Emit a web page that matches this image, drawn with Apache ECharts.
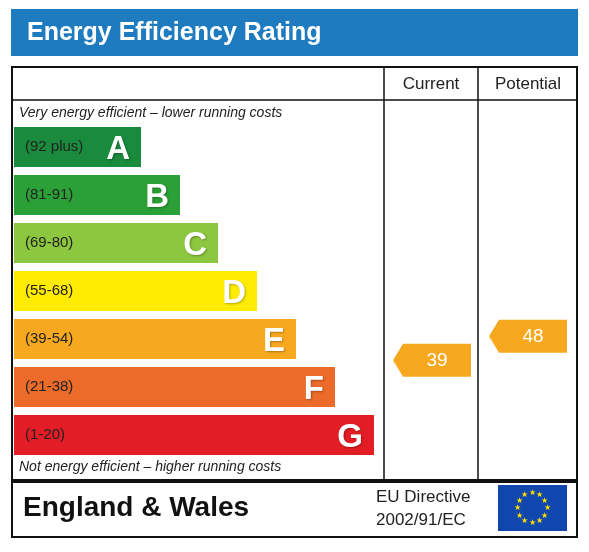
<!DOCTYPE html>
<html><head><meta charset="utf-8">
<script src="https://cdn.jsdelivr.net/npm/echarts@6/dist/echarts.min.js"></script>
<style>html,body{margin:0;padding:0;background:#fff}#c{width:589px;height:552px}</style>
</head><body><div id="c"></div>
<script>
const bands = ['A','B','C','D','E','F','G'];
const ranges = ['(92 plus)','(81-91)','(69-80)','(55-68)','(39-54)','(21-38)','(1-20)'];
const barLengths = [127,166,204,243,282,321,360];
const colors = ['#1a8a3c','#2aa036','#8dc63f','#ffec00','#f8a81f','#ec6b2a','#e31d25'];
const currentRating = [39];
const potentialRating = [48];

const chart = echarts.init(document.getElementById('c'));
const F = 'Liberation Sans, Arial, sans-serif';
const stars = [];
for (let i=0;i<12;i++){const a=i*Math.PI/6;stars.push({type:'text',style:{text:'★',x:532+15*Math.cos(a),y:508+15*Math.sin(a),fill:'#ffdd00',font:'8px '+F,align:'center',verticalAlign:'middle'}});}
function arrow(x, color){
  return function(params, api){
    const y = api.coord([0, api.value(0)])[1];
    const h=33, w=78, n=10;
    return {type:'group',children:[
      {type:'polygon',shape:{points:[[x,y],[x+n,y-h/2],[x+w,y-h/2],[x+w,y+h/2],[x+n,y+h/2]]},style:{fill:color}},
      {type:'text',style:{text:String(api.value(0)),x:x+n+(w-n)/2,y:y,fill:'#fff',font:'19px '+F,align:'center',verticalAlign:'middle'}}
    ]};
  };
}
chart.setOption({
  animation:false,
  grid:{left:14,top:123,width:370,height:336},
  xAxis:[{type:'value',min:0,max:370,show:false}],
  yAxis:[{type:'category',data:bands,inverse:true,show:false},
         {type:'value',min:2,max:128,show:false}],
  series:[
    {type:'bar',data:barLengths.map((v,i)=>({value:v,itemStyle:{color:colors[i]}})),barWidth:40,
     label:{show:true,position:'insideRight',formatter:p=>bands[p.dataIndex],color:'#fff',fontSize:33,fontWeight:'bold',fontFamily:F,offset:[-6,3],
       textShadowColor:'rgba(0,0,0,0.3)',textShadowBlur:2,textShadowOffsetX:1,textShadowOffsetY:1}},
    {type:'bar',data:barLengths.map(v=>0.001),barWidth:40,barGap:'-100%',
     label:{show:true,position:'insideLeft',formatter:p=>ranges[p.dataIndex],color:'#222',fontSize:15,fontFamily:F,offset:[6,0]}},
    {type:'custom',yAxisIndex:1,data:currentRating.map(v=>[v]),renderItem:arrow(393,'#f8a81f'),encode:{y:0}},
    {type:'custom',yAxisIndex:1,data:potentialRating.map(v=>[v]),renderItem:arrow(489,'#f8a81f'),encode:{y:0}}
  ],
  graphic:[
    {type:'rect',shape:{x:11,y:9,width:567,height:47},style:{fill:'#1f7bbf'}},
    {type:'text',style:{text:'Energy Efficiency Rating',x:27,y:33,fill:'#fff',font:'bold 25px '+F,verticalAlign:'middle'}},
    {type:'rect',shape:{x:12,y:67,width:565,height:413},style:{fill:'none',stroke:'#111',lineWidth:2}},
    {type:'line',shape:{x1:12,y1:100,x2:577,y2:100},style:{stroke:'#111',lineWidth:1.5}},
    {type:'line',shape:{x1:384,y1:67,x2:384,y2:480},style:{stroke:'#111',lineWidth:1.5}},
    {type:'line',shape:{x1:478,y1:67,x2:478,y2:480},style:{stroke:'#111',lineWidth:1.5}},
    {type:'text',style:{text:'Current',x:431,y:84,fill:'#222',font:'17px '+F,align:'center',verticalAlign:'middle'}},
    {type:'text',style:{text:'Potential',x:528,y:84,fill:'#222',font:'17px '+F,align:'center',verticalAlign:'middle'}},
    {type:'text',style:{text:'Very energy efficient – lower running costs',x:19,y:113,fill:'#222',font:'italic 14px '+F,verticalAlign:'middle'}},
    {type:'text',style:{text:'Not energy efficient – higher running costs',x:19,y:467,fill:'#222',font:'italic 14px '+F,verticalAlign:'middle'}},
    {type:'rect',shape:{x:12,y:482,width:565,height:55},style:{fill:'none',stroke:'#111',lineWidth:2}},
    {type:'text',style:{text:'England & Wales',x:23,y:508,fill:'#111',font:'bold 28px '+F,verticalAlign:'middle'}},
    {type:'text',style:{text:'EU Directive',x:376,y:497,fill:'#222',font:'17px '+F,verticalAlign:'middle'}},
    {type:'text',style:{text:'2002/91/EC',x:376,y:520,fill:'#222',font:'17px '+F,verticalAlign:'middle'}},
    {type:'rect',shape:{x:498,y:485,width:69,height:46},style:{fill:'#0f47af'}}
  ].concat(stars)
});
</script></body></html>
